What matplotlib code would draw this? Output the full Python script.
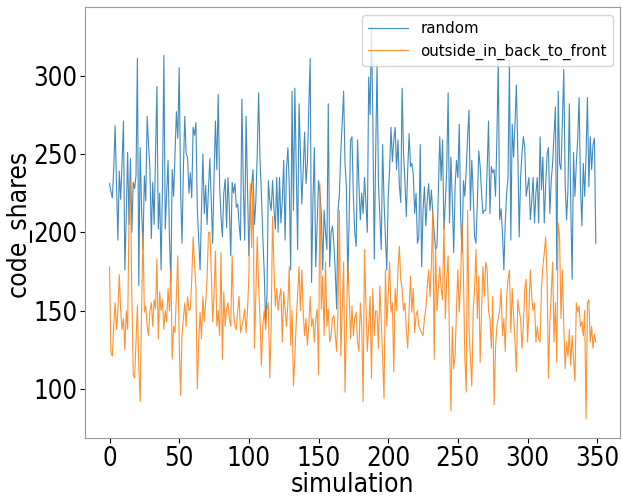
import numpy as np
import matplotlib
matplotlib.use("Agg")
import matplotlib.pyplot as plt

# code shares per simulation
random_shares = [
    231, 226, 222, 240, 268, 230, 195, 239, 221, 245,
    271, 176, 210, 251, 205, 247, 200, 232, 228, 236,
    311, 166, 254, 215, 189, 236, 220, 274, 256, 240,
    196, 232, 205, 248, 293, 202, 225, 176, 230, 313,
    202, 225, 246, 197, 168, 240, 223, 250, 277, 260,
    305, 228, 193, 240, 274, 250, 248, 225,
    238, 222, 267, 262, 270, 215, 195, 176, 215, 250,
    212, 230, 205, 228, 247, 220, 193, 235, 271, 240,
    288, 230, 210, 197, 225, 234, 203, 235, 215, 185,
    232, 225, 231, 216, 218, 205, 195, 285, 230, 195,
    274, 230, 185, 218, 230, 240, 205, 220, 250, 289,
    246, 225, 197, 175, 142, 160,
    233, 220, 214, 233, 215, 202, 235, 200, 235, 206,
    220, 246, 195, 240, 254, 230, 176, 290, 214, 292,
    240, 189, 282, 250, 218, 240, 264, 231, 244, 280,
    311, 168, 220, 254, 178, 204, 233, 225, 212, 176,
    214, 200, 189, 282, 178, 200, 204, 193, 175, 151,
    214, 225, 252, 270, 290, 244, 229, 168, 210, 259,
    261, 223, 200, 191, 259, 230, 208, 225, 212, 235,
    219, 200, 299, 275, 331, 270, 183, 250, 307, 231,
    210, 189, 256, 220, 197, 176, 223, 240, 267, 245,
    259, 267, 240, 259, 230, 219, 292, 250, 233, 210,
    240, 263, 242, 244, 237, 212, 225, 193, 197, 256,
    178, 214, 229, 204, 220, 231, 214, 227, 212, 200,
    189, 191, 225, 261, 233,
    259, 202, 219, 240, 289, 206, 248, 220, 187, 229,
    246, 235, 269, 210, 187, 233, 223, 240, 261, 278,
    214, 246, 225, 197, 193, 220, 252, 242, 225, 212,
    214, 214, 240, 271, 212, 242, 238, 240, 223, 260,
    309, 208, 215, 200, 176, 206, 225, 235, 310, 195,
    269, 248, 270, 294, 252, 197, 235, 250, 261, 254,
    223, 229, 235, 208, 220, 235, 206, 225, 235, 206,
    261, 227, 248, 206, 230, 250, 254, 212, 233, 244,
    262, 280, 176, 290, 244, 240, 270, 304, 231, 208,
    227, 282, 219, 170, 251, 223, 244, 260, 286, 229,
    204, 244, 223, 250, 286, 229, 261, 240, 256, 260,
    193,
]

outside_in_shares = [
    178, 123, 121, 140, 155, 138, 150, 173, 150, 138,
    145, 125, 150, 138, 210, 233, 160, 109, 107, 130,
    153, 115, 92, 150, 200, 149, 153, 140, 134, 150,
    155, 140, 157, 151, 183, 132, 162, 150, 157, 138,
    150, 143, 164, 150, 176, 119, 140, 136, 160, 185,
    130, 96, 134, 145, 155, 140, 159, 150,
    151, 170, 197, 180, 164, 100, 130, 149, 132, 159,
    143, 155, 170, 200, 200, 176, 143, 160, 188, 140,
    150, 134, 187, 119, 162, 140, 151, 155, 145, 140,
    185, 150, 140, 138, 150, 159, 136, 140, 145, 151,
    136, 150, 172, 231, 190, 233, 126, 160, 197, 165,
    145, 115, 140, 150, 138, 151,
    155, 107, 140, 210, 178, 153, 164, 150, 159, 164,
    130, 162, 151, 140, 155, 178, 128, 150, 102, 120,
    143, 160, 178, 150, 176, 149, 134, 145, 128, 140,
    159, 140, 145, 130, 145, 151, 109, 231, 151, 172,
    134, 181, 140, 151, 130, 134, 145, 147, 135, 124,
    151, 214, 121, 150, 181, 98, 140, 181, 159, 132,
    153, 134, 145, 149, 130, 124, 155, 140, 92, 189,
    155, 124, 140, 159, 107, 164, 134, 150, 149, 126,
    166, 143, 120, 94, 176, 140, 160, 181, 149, 155,
    111, 164, 150, 176, 191, 170, 164, 150, 155, 138,
    126, 150, 172, 149, 164, 136, 147, 150, 140, 138,
    136, 134, 145, 151, 165, 176, 159, 180, 214, 119,
    191, 150, 164, 178, 164,
    157, 206, 145, 170, 185, 130, 86, 140, 113, 121,
    150, 176, 149, 170, 206, 172, 120, 98, 214, 138,
    120, 102, 150, 164, 189, 145, 172, 117, 150, 178,
    159, 181, 176, 150, 145, 126, 159, 90, 126, 140,
    145, 150, 164, 134, 145, 124, 159, 170, 176, 136,
    164, 147, 130, 111, 157, 150, 145, 126, 140, 164,
    170, 130, 150, 176, 159, 150, 155, 130, 140, 132,
    130, 164, 178, 187, 197, 172, 107, 143, 160, 181,
    130, 155, 117, 206, 197, 145, 176, 140, 113, 130,
    121, 138, 115, 134, 120, 105, 155, 149, 153, 140,
    143, 134, 150, 81, 155, 157, 130, 140, 126, 135,
    130,
]

series_labels = ["random", "outside_in_back_to_front"]
x_ticks = [0, 50, 100, 150, 200, 250, 300, 350]
y_ticks = [100, 150, 200, 250, 300]

plt.rcParams['font.family'] = 'DejaVu Sans'
plt.rcParams['font.stretch'] = 'condensed'

fig, ax = plt.subplots(figsize=(6.22, 4.97), dpi=100)
fig.subplots_adjust(left=0.137, right=0.997, top=0.985, bottom=0.118)

ax.plot(np.arange(len(random_shares)), random_shares, lw=0.8, alpha=0.85,
        label=series_labels[0])
ax.plot(np.arange(len(outside_in_shares)), outside_in_shares, lw=0.8, alpha=0.85,
        label=series_labels[1])

ax.set_xticks(x_ticks)
ax.set_yticks(y_ticks)
ax.tick_params(labelsize=18.5, pad=2)
ax.set_xlabel("simulation", fontsize=19, labelpad=0)
ax.set_ylabel("code_shares", fontsize=19, labelpad=1)
for s in ax.spines.values():
    s.set_color("#999999")

ax.legend(loc="upper right", prop={'family': 'DejaVu Sans', 'stretch': 'normal', 'size': 10.8},
          handlelength=2.7)

fig.savefig("out.png")
